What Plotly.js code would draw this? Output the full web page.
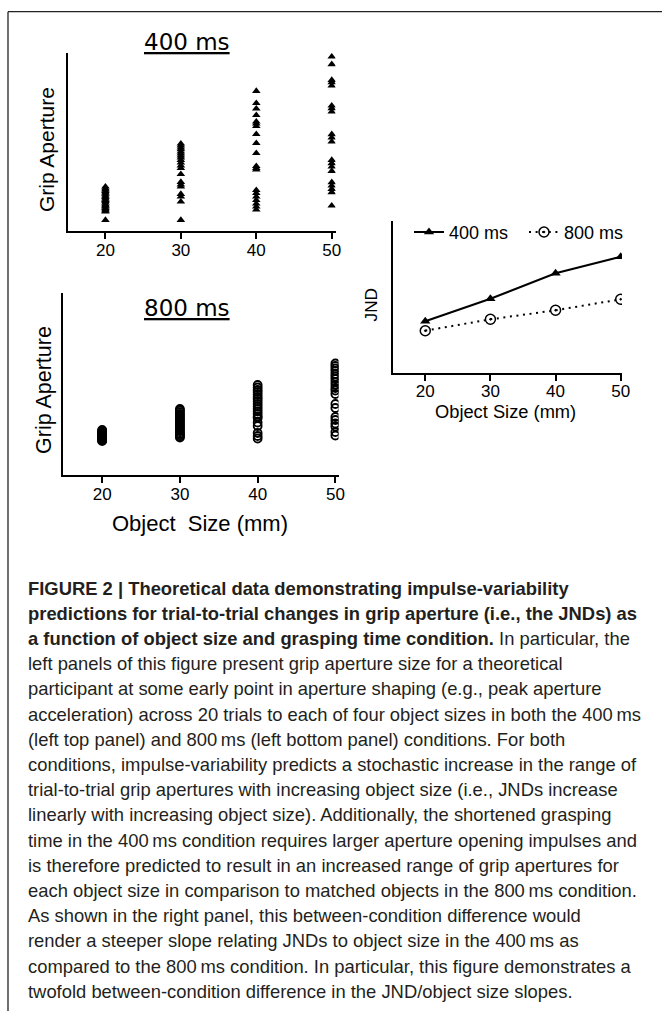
<!DOCTYPE html>
<html>
<head>
<meta charset="utf-8">
<script src="https://cdn.plot.ly/plotly-3.0.1.min.js"></script>
<style>html,body{margin:0;padding:0;background:#fff;}#chart{width:662px;height:1011px;}</style>
</head>
<body>
<div id="chart"></div>
<script>
// ---------------- DATA ----------------
const objectSizes = [20, 30, 40, 50];
const tickLabels = ["20", "30", "40", "50"];

// Grip aperture (arbitrary units), 20 trials per object size, 400 ms condition
const grip400_20 = [44, 42.3, 41, 39.6, 38.2, 36.8, 35.1, 33.7, 32.2, 30.6, 29.5, 28.1, 26.4, 25.2, 24, 22.6, 21.3, 20.1, 19, 10.7];
const grip400_30 = [87, 85.2, 83, 81.3, 79, 77.2, 75, 73.1, 70.6, 68, 65.2, 62.5, 56.5, 48.6, 46.1, 44, 36.6, 34, 29, 10.7];
const grip400_40 = [139.7, 127.5, 122, 115.5, 109, 107, 104.5, 96.5, 87.5, 77.5, 64.5, 62.5, 61, 40.5, 37.5, 34, 30.5, 27, 24, 21];
const grip400_50 = [174, 166.4, 150.7, 148.4, 145, 125, 122.4, 119, 96.4, 93, 89, 70.7, 67.4, 64, 59.7, 48.4, 45, 41.7, 38.4, 25];

// 800 ms condition
const grip800_20 = [45, 44.2, 43.5, 43, 42.1, 41.6, 41, 40.3, 39.8, 39.5, 38.9, 38.2, 37.7, 37.1, 36.8, 36.2, 35.5, 35, 34.6, 34];
const grip800_30 = [66, 64.5, 62.8, 61, 59.6, 58, 56.2, 55, 53.4, 51.8, 50, 48.7, 47, 45.5, 44, 42.6, 41, 39.8, 38.6, 37.5];
const grip800_40 = [90, 87.5, 85, 83, 80.5, 78, 76, 73.5, 71, 68.5, 66, 63.5, 61, 58.5, 57, 52.5, 49, 42, 39, 36.5];
const grip800_50 = [111.5, 109, 106.5, 104, 101, 98.5, 96, 93, 90, 87, 84.5, 81, 71, 67, 58, 55, 51.5, 48.5, 43, 39.5];

// JND per object size
const jnd400 = [52, 74.5, 100, 116.5];
const jnd800 = [42.6, 54, 63, 74];

const seriesNames = ["400 ms", "800 ms"];

const captionLines = [
  "<b>FIGURE 2 | Theoretical data demonstrating impulse-variability</b>",
  "<b>predictions for trial-to-trial changes in grip aperture (i.e., the JNDs) as</b>",
  "<b>a function of object size and grasping time condition.</b> In particular, the",
  "left panels of this figure present grip aperture size for a theoretical",
  "participant at some early point in aperture shaping (e.g., peak aperture",
  "acceleration) across 20 trials to each of four object sizes in both the 400\u2009ms",
  "(left top panel) and 800\u2009ms (left bottom panel) conditions. For both",
  "conditions, impulse-variability predicts a stochastic increase in the range of",
  "trial-to-trial grip apertures with increasing object size (i.e., JNDs increase",
  "linearly with increasing object size). Additionally, the shortened grasping",
  "time in the 400\u2009ms condition requires larger aperture opening impulses and",
  "is therefore predicted to result in an increased range of grip apertures for",
  "each object size in comparison to matched objects in the 800\u2009ms condition.",
  "As shown in the right panel, this between-condition difference would",
  "render a steeper slope relating JNDs to object size in the 400\u2009ms as",
  "compared to the 800\u2009ms condition. In particular, this figure demonstrates a",
  "twofold between-condition difference in the JND/object size slopes."
];

// ---------------- HELPERS ----------------
const W = 662, H = 1011;
const px = x => x / W;
const py = y => 1 - y / H;
const ARIAL = "Liberation Sans, Arial, sans-serif";
const DEJAVU = "DejaVu Sans, sans-serif";

function column(xv, ys) { return ys.map(() => xv); }

const grip400 = [grip400_20, grip400_30, grip400_40, grip400_50];
const grip800 = [grip800_20, grip800_30, grip800_40, grip800_50];

function flatX(groups) { let o = []; groups.forEach((g, i) => { o = o.concat(column(objectSizes[i], g)); }); return o; }
function flatY(groups) { let o = []; groups.forEach(g => { o = o.concat(g); }); return o; }

const traces = [
  {
    x: flatX(grip400), y: flatY(grip400), xaxis: 'x', yaxis: 'y',
    type: 'scatter', mode: 'markers', showlegend: false,
    marker: { symbol: 'triangle-up', size: 7.5, color: '#000' }
  },
  {
    x: flatX(grip800), y: flatY(grip800), xaxis: 'x2', yaxis: 'y2',
    type: 'scatter', mode: 'markers', showlegend: false,
    marker: { symbol: 'circle-open', size: 8, color: '#000', line: { width: 1.8, color: '#000' } }
  },
  {
    x: objectSizes, y: jnd400, xaxis: 'x3', yaxis: 'y3', name: seriesNames[0],
    type: 'scatter', mode: 'lines+markers',
    line: { color: '#000', width: 2 },
    marker: { symbol: 'triangle-up', size: 9, color: '#000' }
  },
  {
    x: objectSizes, y: jnd800, xaxis: 'x3', yaxis: 'y3', name: seriesNames[1],
    type: 'scatter', mode: 'lines+markers',
    line: { color: '#000', width: 2, dash: '2px,4.6px' },
    marker: { symbol: 'circle-open-dot', size: 10, color: '#000', line: { width: 1.5, color: '#000' } }
  }
];

function xAxis(domain, range, anchor, fontSize, standoff) {
  return {
    domain: domain, range: range, anchor: anchor,
    tickmode: 'array', tickvals: objectSizes, ticktext: tickLabels,
    ticks: 'outside', ticklen: 6, tickwidth: 2, tickcolor: '#000',
    ticklabelstandoff: standoff,
    showline: true, linewidth: 2, linecolor: '#000',
    showgrid: false, zeroline: false, fixedrange: true,
    tickfont: { family: ARIAL, size: fontSize, color: '#000' }
  };
}
function yAxis(domain, range, anchor) {
  return {
    domain: domain, range: range, anchor: anchor,
    showticklabels: false, ticks: '',
    showline: true, linewidth: 2, linecolor: '#000',
    showgrid: false, zeroline: false, fixedrange: true
  };
}

const annotations = [
  { text: "<u>400 ms</u>", x: px(186.7), y: py(42), font: { family: DEJAVU, size: 23, color: '#000' } },
  { text: "<u>800 ms</u>", x: px(186.7), y: py(308), font: { family: DEJAVU, size: 23, color: '#000' } },
  { text: "Grip Aperture", x: px(46), y: py(150), textangle: -90, font: { family: ARIAL, size: 21, color: '#000' } },
  { text: "Grip Aperture", x: px(44), y: py(390), textangle: -90, font: { family: ARIAL, size: 21.5, color: '#000' } },
  { text: "Object\u00a0\u00a0Size (mm)", x: px(200), y: py(523), font: { family: ARIAL, size: 22, color: '#000' } },
  { text: "JND", x: px(370.5), y: py(305), textangle: -90, font: { family: ARIAL, size: 17.3, color: '#000' } },
  { text: "Object Size (mm)", x: px(505.8), y: py(412), font: { family: ARIAL, size: 18.3, color: '#000' } }
].map(a => Object.assign({ xref: 'paper', yref: 'paper', showarrow: false, xanchor: 'center', yanchor: 'middle' }, a));

captionLines.forEach((t, i) => {
  annotations.push({
    text: t, xref: 'paper', yref: 'paper', showarrow: false,
    x: px(26), y: py(588 + i * 25.2), xanchor: 'left', yanchor: 'middle', align: 'left',
    font: { family: ARIAL, size: 18.4, color: '#231f20' }
  });
});

const layout = {
  width: W, height: H,
  margin: { l: 0, r: 0, t: 0, b: 0, pad: 0 },
  paper_bgcolor: '#fff', plot_bgcolor: 'rgba(0,0,0,0)',
  showlegend: true,
  legend: {
    orientation: 'h', x: px(409), y: py(232.3), xanchor: 'left', yanchor: 'middle',
    font: { family: ARIAL, size: 18, color: '#000' },
    bgcolor: 'rgba(0,0,0,0)', borderwidth: 0, entrywidth: 70, entrywidthmode: 'pixels',
    itemclick: false, itemdoubleclick: false
  },
  xaxis: xAxis([px(67.7), px(335.5)], [15, 50.5], 'y', 17, -3),
  yaxis: yAxis([py(230.7), py(53)], [0, 177.7], 'x'),
  xaxis2: xAxis([px(63.3), px(338.5)], [15, 50.4], 'y2', 17, -3),
  yaxis2: yAxis([py(475), py(293.3)], [0, 181.7], 'x2'),
  xaxis3: xAxis([px(392.7), px(622)], [15, 50.2], 'y3', 17, -5),
  yaxis3: yAxis([py(373.3), py(220.7)], [0, 152.6], 'x3'),
  annotations: annotations,
  shapes: [
    { type: 'line', xref: 'paper', yref: 'paper', x0: px(8), x1: 1, y0: py(11.7), y1: py(11.7), line: { color: '#222', width: 1.3 } },
    { type: 'line', xref: 'paper', yref: 'paper', x0: px(8), x1: px(8), y0: py(11.7), y1: 0, line: { color: '#222', width: 1.3 } }
  ]
};

Plotly.newPlot('chart', traces, layout, { displayModeBar: false, staticPlot: true });
</script>
</body>
</html>
